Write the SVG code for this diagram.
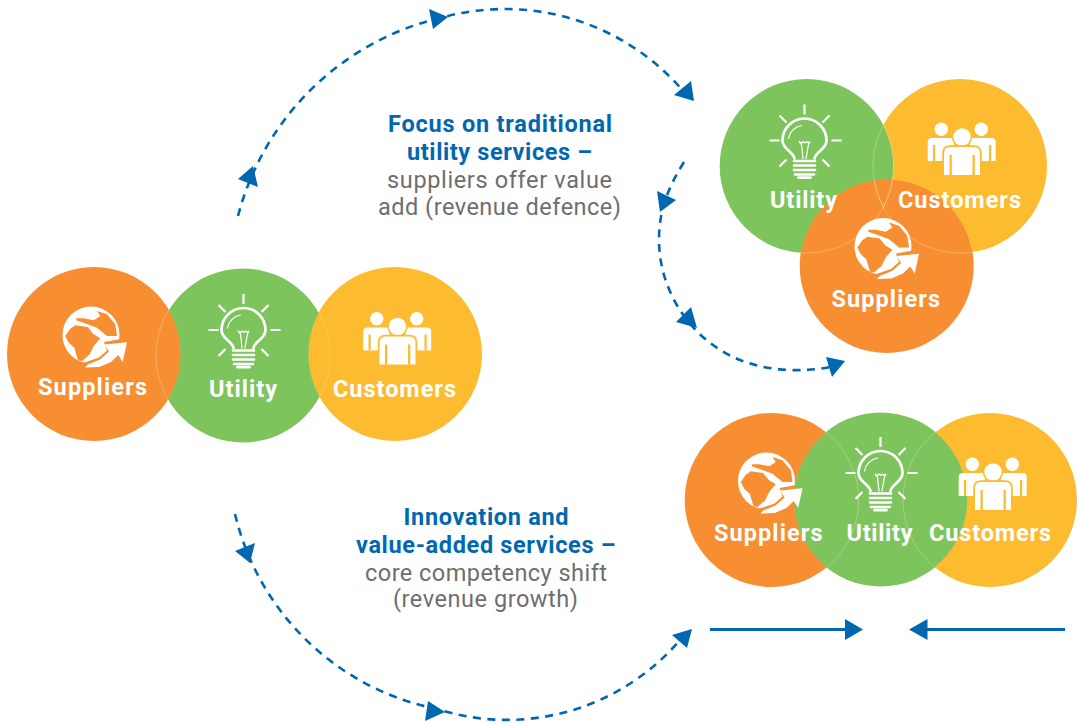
<svg xmlns="http://www.w3.org/2000/svg" width="1077" height="723" viewBox="0 0 1077 723">
<style>
.sup{fill:#f78e31}.utl{fill:#7dc45d}.cus{fill:#fdbb30}
.lab{font-family:Roboto,"Liberation Sans",sans-serif;font-weight:700;font-size:23.5px;fill:#fff}
.h{font-family:Roboto,"Liberation Sans",sans-serif;font-weight:700;font-size:23.5px;fill:#0067b1}
.b{font-family:Roboto,"Liberation Sans",sans-serif;font-weight:400;font-size:23.5px;fill:#6d6e71}
.seam{fill:none;stroke:#fbe3b0;stroke-opacity:.55;stroke-width:.7}
.dash{fill:none;stroke:#0067b1;stroke-width:2.6;stroke-dasharray:8 6.5}
.solid{fill:none;stroke:#0067b1;stroke-width:3}
.tri{fill:#0067b1}
.bs{fill:none;stroke:#fff;stroke-width:2.7;stroke-linecap:round}
.thin{fill:none;stroke:#fff;stroke-width:1.2;stroke-linecap:round}
.ray{fill:none;stroke:#fff;stroke-width:2.2}
</style>
<defs>
<clipPath id="globeCut"><path d="M-30,-30H30V4L13,7L16,15.5L8,22.5L-8,28L-10,30H-30Z"/></clipPath>
<g id="globe">
<circle r="28.5" fill="#fff" clip-path="url(#globeCut)"/>
<path class="sup" d="M-25.7,1 L-21,-6 L-15.7,-9.7 L-3.3,-8 L2,-1.3 L9.3,3.3 L2.7,11 L-1.3,19.3 L-9,26 L-13,25.3 L-16.7,12.7 L-22.3,7.7Z"/>
<path class="sup" d="M-14.7,-14.7 L-3.3,-10.7 L6,-7.3 L16,1 L26,1 L24.3,-10.7 L16,-20.7 L6,-24 L9.3,-19 L2.7,-14.7 L-7.3,-16.7 L-14.7,-16.7Z"/>
<path d="M-6,32.5 L-3.3,29.5 L9,24.5 L18,16.5 L13.5,9.5 L36,7.3 L31.7,27 L27.2,20 L20,27 L8.3,32Z" fill="#fff"/>
</g>
<g id="bulb">
<path class="bs" d="M-10,17 C-11,10 -22,8 -22,-1 A22 22 0 0 1 22,-1 C22,8 11,10 10,17"/>
<path class="bs" d="M-10.5,19.5H10.5M-10.5,24H10.5M-10.5,28.5H10.5M-9.5,33H9.5M-6,36.2H6"/>
<path class="thin" d="M-16,-3 A16 16 0 0 1 -3,-16"/>
<path class="thin" d="M-1.5,17 L-3,3 L-5.5,0 L-3,1.5 L-1.5,0 L0,1.5 L2,0 L3.5,1.5 L5.5,0 L4,3 L1.5,17"/>
<path class="ray" d="M0,-37V-27M-25,-26L-18,-19M25,-26L18,-19M-35,-1H-25M27,-1H37M-25,25L-18,18M25,25L18,18"/>
</g>
<g id="people">
<circle cx="-20.7" cy="-7.7" r="6.7" fill="#fff"/>
<circle cx="19.3" cy="-7.7" r="6.7" fill="#fff"/>
<path d="M-34.3,24 V5 Q-34.3,1 -30,1 H-8 V24Z M33.7,24 V5 Q33.7,1 29.7,1 H8 V24Z" fill="#fff"/>
<path class="cus" d="M-29,8h2.2v16h-2.2zM27,8h2.2v16h-2.2z"/>
<circle r="8.7" fill="#fff" stroke="#fdbb30" stroke-width="3" paint-order="stroke"/>
<path d="M-18,38 V16 Q-18,10 -12,10 H12 Q18,10 18,16 V38Z" fill="#fff" stroke="#fdbb30" stroke-width="3.5" paint-order="stroke"/>
<path class="cus" d="M-12.5,18h2.3v20h-2.3zM10.5,18h2.3v20h-2.3z"/>
</g>
<clipPath id="xLS"><path clip-rule="evenodd" d="M0 0H1077V723H0Z M7.4,354a86.6,86.6 0 1,0 173.2,0a86.6,86.6 0 1,0 -173.2,0Z"/></clipPath>
<clipPath id="xLC"><path clip-rule="evenodd" d="M0 0H1077V723H0Z M308.4,354a86.6,86.6 0 1,0 173.2,0a86.6,86.6 0 1,0 -173.2,0Z"/></clipPath>
<clipPath id="xTS"><path clip-rule="evenodd" d="M0 0H1077V723H0Z M800.1,266a86.6,86.6 0 1,0 173.2,0a86.6,86.6 0 1,0 -173.2,0Z"/></clipPath>
<clipPath id="xTU"><path clip-rule="evenodd" d="M0 0H1077V723H0Z M720.1,166a86.6,86.6 0 1,0 173.2,0a86.6,86.6 0 1,0 -173.2,0Z"/></clipPath>
<clipPath id="xBU"><path clip-rule="evenodd" d="M0 0H1077V723H0Z M794.1,499.5a86.6,86.6 0 1,0 173.2,0a86.6,86.6 0 1,0 -173.2,0Z"/></clipPath>
<clipPath id="iLS"><circle cx="94" cy="354" r="87"/></clipPath>
<clipPath id="iLC"><circle cx="395" cy="354" r="87"/></clipPath>
<clipPath id="iTS"><circle cx="886.7" cy="266" r="87"/></clipPath>
<clipPath id="iTU"><circle cx="806.7" cy="166" r="87"/></clipPath>
<clipPath id="iTC"><circle cx="960" cy="166" r="87"/></clipPath>
<clipPath id="iBU"><circle cx="880.7" cy="499.5" r="87"/></clipPath>
</defs>

<g id="connectors">
<path class="dash" d="M238,216 A275,275 0 0 1 444,17 A235,235 0 0 1 684,92"/>
<path class="tri" d="M253,166 L238,179 L258,187Z"/>
<path class="tri" d="M448,17 L429,9 L433,29Z"/>
<path class="tri" d="M694,101 L691,81 L674,95Z"/>
<path class="dash" d="M684,162 C668,188 659,210 659,240 C659,290 690,340 740,360 C770,372 805,372 830,367"/>
<path class="tri" d="M657,191 L676,200 L660,212Z"/>
<path class="tri" d="M697,328 L691,307 L676,322Z"/>
<path class="tri" d="M845,361 L826,357 L832,377Z"/>
<path class="dash" d="M235,514 A260,260 0 0 0 437,709 A228,228 0 0 0 680,640"/>
<path class="tri" d="M250,563 L235,551 L255,543Z"/>
<path class="tri" d="M445,712 L428,701 L425,721Z"/>
<path class="tri" d="M692,629 L672,635 L687,648Z"/>
<path class="solid" d="M710,629.5H846"/>
<path class="tri" d="M863,629.5 L845,619 V640Z"/>
<path class="solid" d="M1065,629.5H926"/>
<path class="tri" d="M909,629.5 L927.5,619 V640Z"/>
</g>

<g id="left-suppliers">
<circle class="sup" cx="94" cy="354" r="87"/>
<circle class="seam" cx="243" cy="355.5" r="87" clip-path="url(#iLS)"/>
<use href="#globe" x="91" y="335"/>
<text class="lab" x="38" y="394.5" textLength="109">Suppliers</text>
</g>
<g id="left-customers">
<circle class="cus" cx="395" cy="354" r="87"/>
<circle class="seam" cx="243" cy="355.5" r="87" clip-path="url(#iLC)"/>
<use href="#people" x="397.5" y="326.5"/>
<text class="lab" x="333" y="396.5" textLength="123">Customers</text>
</g>
<g id="left-utility">
<g clip-path="url(#xLS)"><circle class="utl" cx="243" cy="355.5" r="87" clip-path="url(#xLC)"/></g>
<use href="#bulb" x="243.5" y="331"/>
<text class="lab" x="209" y="396.5" textLength="68">Utility</text>
</g>

<g id="top-suppliers">
<circle class="sup" cx="886.7" cy="266" r="87"/>
<circle class="seam" cx="806.7" cy="166" r="87" clip-path="url(#iTS)"/>
<circle class="seam" cx="960" cy="166" r="87" clip-path="url(#iTS)"/>
<use href="#globe" x="883" y="246.5"/>
<text class="lab" x="831.5" y="306.5" textLength="108.5">Suppliers</text>
</g>
<g id="top-utility">
<circle class="utl" cx="806.7" cy="166" r="87" clip-path="url(#xTS)"/>
<circle class="seam" cx="960" cy="166" r="87" clip-path="url(#iTU)"/>
<use href="#bulb" x="804.5" y="141.5"/>
<text class="lab" x="770" y="207.5" textLength="67">Utility</text>
</g>
<g id="top-customers">
<g clip-path="url(#xTS)"><circle class="cus" cx="960" cy="166" r="87" clip-path="url(#xTU)"/></g>
<circle class="seam" cx="806.7" cy="166" r="87" clip-path="url(#iTC)"/>
<use href="#people" x="962" y="137"/>
<text class="lab" x="898" y="207.5" textLength="123">Customers</text>
</g>

<g id="bottom-utility">
<circle class="utl" cx="880.7" cy="499.5" r="87"/>
<circle class="seam" cx="771.7" cy="500" r="87" clip-path="url(#iBU)"/>
<circle class="seam" cx="990" cy="500" r="87" clip-path="url(#iBU)"/>
<use href="#bulb" x="880.5" y="474"/>
<text class="lab" x="846.5" y="541" textLength="66">Utility</text>
</g>
<g id="bottom-suppliers">
<circle class="sup" cx="771.7" cy="500" r="87" clip-path="url(#xBU)"/>
<use href="#globe" x="766.5" y="481"/>
<text class="lab" x="714" y="541" textLength="108.5">Suppliers</text>
</g>
<g id="bottom-customers">
<circle class="cus" cx="990" cy="500" r="87" clip-path="url(#xBU)"/>
<use href="#people" x="993" y="472"/>
<text class="lab" x="929" y="541" textLength="122">Customers</text>
</g>

<g id="captions">
<text class="h" x="388" y="132" textLength="224">Focus on traditional</text>
<text class="h" x="407" y="160" textLength="185">utility services –</text>
<text class="b" x="387" y="188" textLength="225">suppliers offer value</text>
<text class="b" x="378" y="215" textLength="243">add (revenue defence)</text>
<text class="h" x="403.5" y="525" textLength="165">Innovation and</text>
<text class="h" x="356" y="553" textLength="259.5">value-added services –</text>
<text class="b" x="365" y="581" textLength="242">core competency shift</text>
<text class="b" x="393" y="607" textLength="185">(revenue growth)</text>
</g>
</svg>
